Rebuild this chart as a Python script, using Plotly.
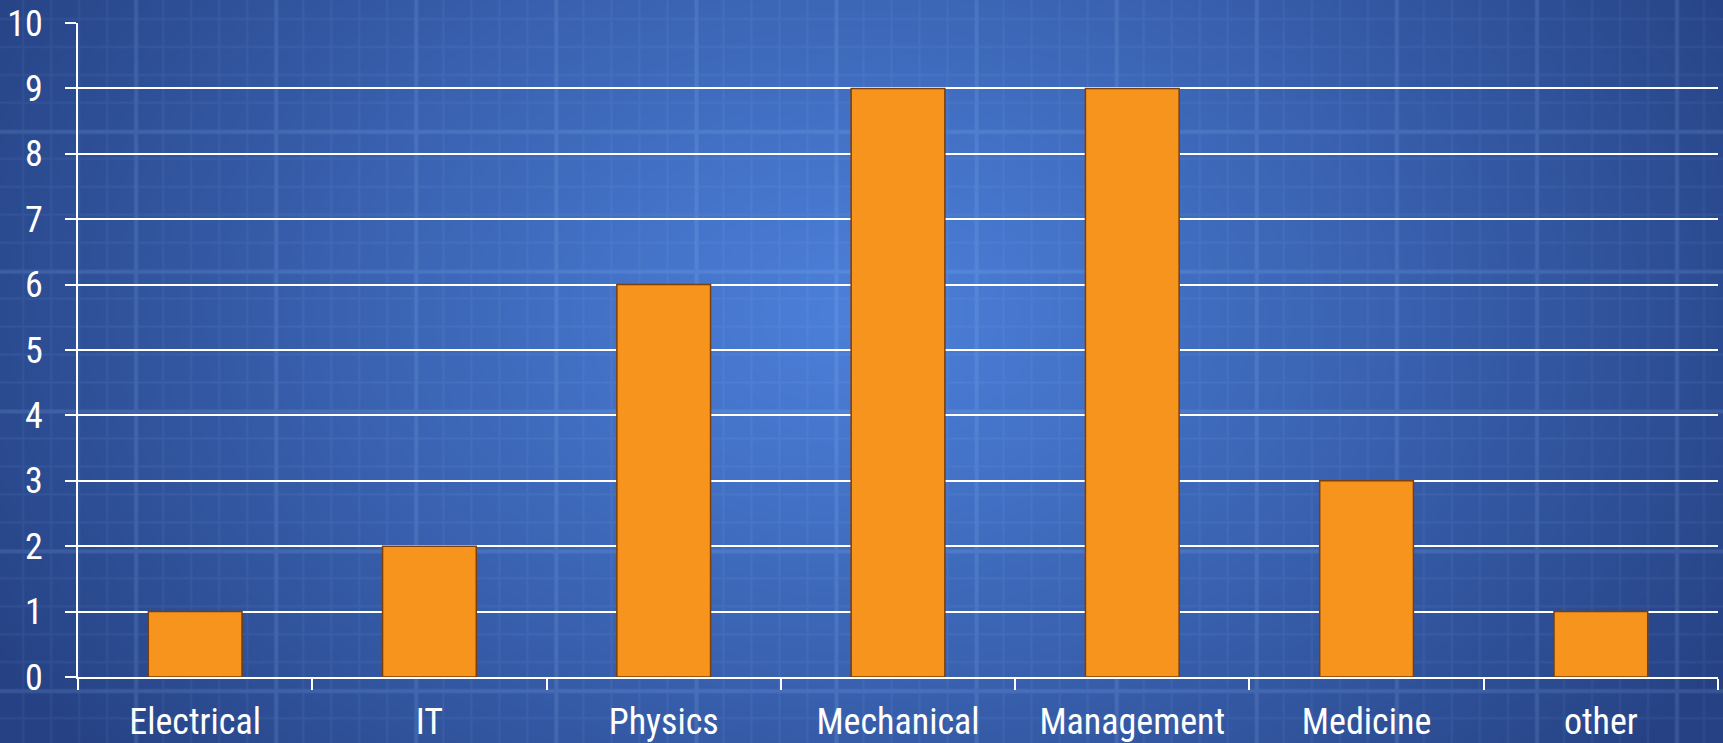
import base64, struct, zlib
import numpy as np
import plotly.graph_objects as go

categories = ["Electrical", "IT", "Physics", "Mechanical", "Management", "Medicine", "other"]
values = [1, 2, 6, 9, 9, 3, 1]
y_ticks = list(range(0, 11))

W, H = 1723, 743
L, R, T, B = 78, 5, 23, 66


def make_bg(w, h):
    yy, xx = np.mgrid[0:h, 0:w].astype(float)
    cx, cy = 0.5 * w, 0.42 * h
    d = np.sqrt(((xx - cx) / (0.58 * w)) ** 2 + ((yy - cy) / (0.95 * h)) ** 2)
    t = np.clip(d, 0, 1) ** 1.1
    c0 = np.array([76, 128, 218], float)
    c1 = np.array([38, 66, 132], float)
    img = c0[None, None, :] * (1 - t[..., None]) + c1[None, None, :] * t[..., None]
    # faint blueprint grid
    step = 14.0
    gx = (np.abs(((xx + 3) % step)) < 1.0)
    gy = (np.abs(((yy + 5) % step)) < 1.0)
    gxm = (np.abs(((xx + 3) % (step * 5))) < 1.2)
    gym = (np.abs(((yy + 5) % (step * 5))) < 1.2)
    a = np.zeros_like(xx)
    a = np.maximum(a, gx * 0.08)
    a = np.maximum(a, gy * 0.08)
    a = np.maximum(a, gxm * 0.15)
    a = np.maximum(a, gym * 0.15)
    light = np.array([160, 200, 255], float)
    img = img * (1 - a[..., None]) + light[None, None, :] * a[..., None]
    img = np.clip(img, 0, 255).astype(np.uint8)
    raw = b"".join(b"\x00" + img[r].tobytes() for r in range(h))

    def chunk(tag, data):
        c = struct.pack(">I", len(data)) + tag + data
        return c + struct.pack(">I", zlib.crc32(tag + data) & 0xFFFFFFFF)

    png = b"\x89PNG\r\n\x1a\n" + chunk(b"IHDR", struct.pack(">IIBBBBB", w, h, 8, 2, 0, 0, 0)) \
        + chunk(b"IDAT", zlib.compress(raw, 9)) + chunk(b"IEND", b"")
    return "data:image/png;base64," + base64.b64encode(png).decode()


bg = make_bg(W // 2, H // 2 + 1)

pw = W - L - R
ph = H - T - B

font_family = "Liberation Sans Narrow, Arial Narrow, Roboto Condensed, Roboto, Liberation Sans, sans-serif"

fig = go.Figure()
fig.add_trace(go.Bar(
    x=categories, y=values,
    marker=dict(color="#F7941E", line=dict(color="#7A3F0A", width=1.5)),
    hoverinfo="x+y",
))

fig.add_layout_image(dict(
    source=bg, xref="paper", yref="paper",
    x=-L / pw, y=1 + T / ph, sizex=W / pw, sizey=H / ph,
    xanchor="left", yanchor="top", sizing="stretch", layer="below",
))

fig.update_layout(
    width=W, height=H,
    margin=dict(l=L, r=R, t=T, b=B, pad=0),
    paper_bgcolor="#2a4a8e",
    plot_bgcolor="rgba(0,0,0,0)",
    bargap=0.6,
    showlegend=False,
    font=dict(family=font_family, color="white", size=36),
    xaxis=dict(
        showgrid=False, showline=True, linecolor="white", linewidth=2,
        ticks="outside", tickson="boundaries", ticklen=11, tickwidth=2, tickcolor="white",
        tickfont=dict(size=36, color="white", family=font_family),
        ticklabelstandoff=12, automargin=False,
    ),
    yaxis=dict(
        range=[0, 10], tickvals=y_ticks, showgrid=True, gridcolor="white", gridwidth=2,
        showline=True, linecolor="white", linewidth=2, zeroline=False,
        ticks="outside", ticklen=11, tickwidth=2, tickcolor="white",
        tickfont=dict(size=36, color="white", family=font_family),
        ticklabelstandoff=15, automargin=False,
    ),
)

fig.write_html("out.html")
